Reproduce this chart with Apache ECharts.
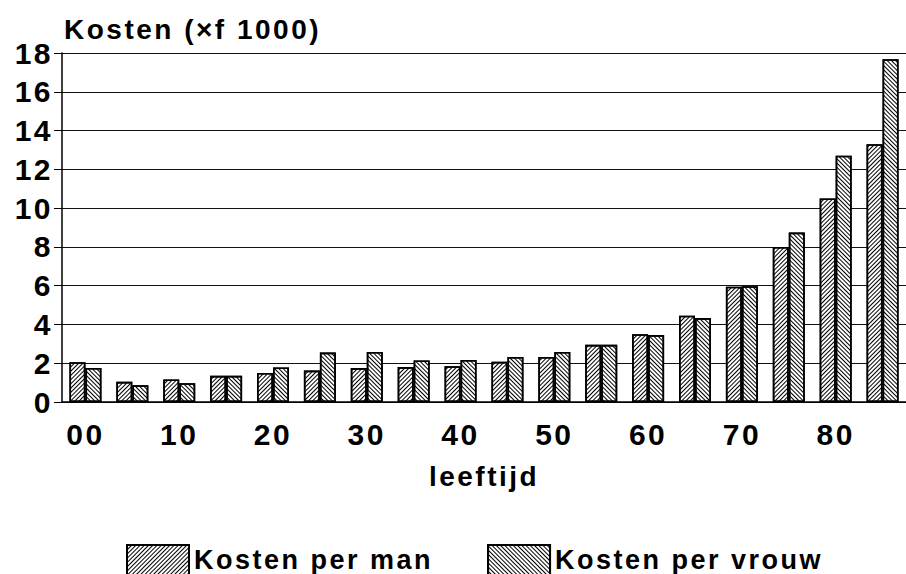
<!DOCTYPE html>
<html>
<head>
<meta charset="utf-8">
<script src="https://cdn.jsdelivr.net/npm/echarts@6/dist/echarts.min.js"></script>
<style>
  html, body { margin: 0; padding: 0; background: #fff; }
  #main { width: 906px; height: 574px; }
  #main text { letter-spacing: 2.5px; }
</style>
</head>
<body>
<div id="main"></div>
<script>
// leeftijdsklassen (5 jaar), alleen elke tweede krijgt een label
var leeftijd = ['00', '05', '10', '15', '20', '25', '30', '35', '40', '45', '50', '55', '60', '65', '70', '75', '80', '85'];
// kosten x f 1000
var kostenMan = [2.05, 1.04, 1.16, 1.35, 1.5, 1.62, 1.75, 1.8, 1.85, 2.07, 2.32, 2.95, 3.5, 4.45, 5.95, 8.0, 10.5, 13.3];
var kostenVrouw = [1.76, 0.86, 0.97, 1.35, 1.78, 2.55, 2.58, 2.14, 2.17, 2.32, 2.58, 2.95, 3.45, 4.33, 5.97, 8.74, 12.7, 17.68];

var font = '"Liberation Sans", Arial, sans-serif';

var hatch = function (angle, gap) {
  return {
    symbol: 'rect',
    symbolSize: 1,
    dashArrayX: [1, 0],
    dashArrayY: [1, gap],
    rotation: angle,
    color: '#000',
    backgroundColor: '#fff'
  };
};

var option = {
  animation: false,
  backgroundColor: '#fff',
  title: {
    text: 'Kosten (\u00d7f 1000)',
    left: 59,
    top: 10,
    textStyle: { fontFamily: font, fontSize: 28, fontWeight: 'bold', color: '#000' }
  },
  legend: {
    data: ['Kosten per man', 'Kosten per vrouw'],
    left: 121,
    top: 539,
    icon: 'rect',
    itemWidth: 62,
    itemHeight: 30,
    itemGap: 89,
    textStyle: { fontFamily: font, fontSize: 27, fontWeight: 'bold', color: '#000' }
  },
  grid: {
    left: 62,
    top: 53,
    width: 849,
    height: 349
  },
  xAxis: {
    type: 'category',
    data: leeftijd,
    name: 'leeftijd',
    nameLocation: 'middle',
    nameGap: 60,
    nameTextStyle: { fontFamily: font, fontSize: 28, fontWeight: 'bold', color: '#000' },
    axisLine: { lineStyle: { color: '#000', width: 1.5 } },
    axisTick: { alignWithLabel: true, interval: 0, length: 10, lineStyle: { color: '#000', width: 1.5 } },
    axisLabel: { interval: 1, margin: 17, fontFamily: font, fontSize: 30, fontWeight: 'bold', color: '#000' }
  },
  yAxis: {
    type: 'value',
    min: 0,
    max: 18,
    interval: 2,
    axisLine: { show: true, lineStyle: { color: '#000', width: 1.5 } },
    axisTick: { show: true, length: 8, lineStyle: { color: '#000' } },
    axisLabel: { margin: 9, fontFamily: font, fontSize: 30, fontWeight: 'bold', color: '#000' },
    splitLine: { lineStyle: { color: '#111', width: 1 } }
  },
  series: [
    {
      name: 'Kosten per man',
      type: 'bar',
      data: kostenMan,
      barWidth: 16,
      barGap: '0%',
      itemStyle: { color: '#fff', borderColor: '#000', borderWidth: 1.6, decal: hatch(-Math.PI / 4, 2) }
    },
    {
      name: 'Kosten per vrouw',
      type: 'bar',
      data: kostenVrouw,
      barWidth: 16,
      itemStyle: { color: '#fff', borderColor: '#000', borderWidth: 1.6, decal: hatch(Math.PI / 4, 1.5) }
    }
  ]
};

var myChart = echarts.init(document.getElementById('main'), null, { renderer: 'svg' });
myChart.setOption(option);
</script>
</body>
</html>
